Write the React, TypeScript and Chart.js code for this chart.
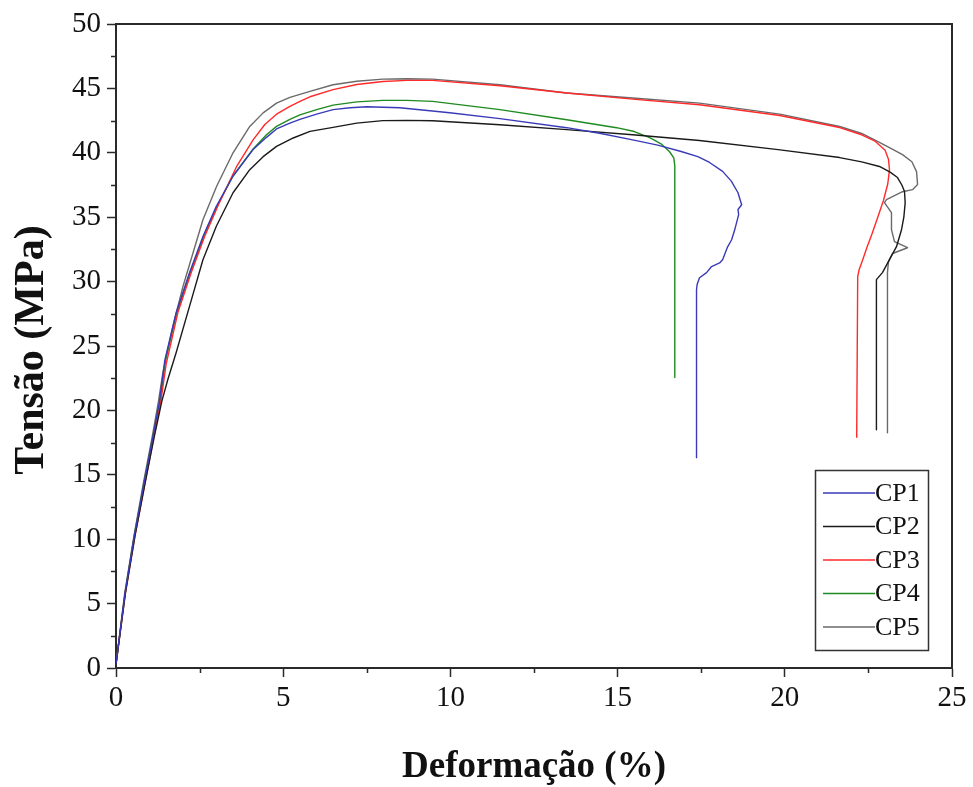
import React, { useEffect, useRef } from "react";
import { Chart, registerables } from "chart.js";

Chart.register(...registerables);

// ---- Data (strain %, stress MPa) ----
const cp1Strain = [0, 0.27, 0.55, 0.85, 1.1, 1.3, 1.46, 1.8, 2.2, 2.6, 3.0, 3.5, 4.1, 4.5, 4.8, 5.2, 5.5, 6.0, 6.49, 7.0, 7.5, 8.49, 9.98, 11.48, 13.48, 14.5, 15.45, 16.2, 16.9, 17.4, 17.75, 18.14, 18.4, 18.6, 18.71, 18.6, 18.62, 18.5, 18.41, 18.29, 18.14, 18.05, 17.81, 17.66, 17.45, 17.38, 17.36, 17.36];
const cp1Stress = [0.3, 5.8, 10.3, 14.5, 17.9, 20.7, 23.9, 27.6, 30.7, 33.5, 35.85, 38.2, 40.25, 41.2, 41.85, 42.3, 42.6, 43.0, 43.35, 43.5, 43.58, 43.5, 43.11, 42.65, 41.95, 41.5, 41.0, 40.6, 40.1, 39.7, 39.25, 38.56, 37.8, 36.9, 35.97, 35.6, 35.2, 34.0, 33.25, 32.7, 31.7, 31.45, 31.17, 30.7, 30.3, 29.8, 29.37, 16.33];

const cp2Strain = [0, 0.28, 0.57, 0.88, 1.14, 1.37, 1.55, 1.8, 2.2, 2.6, 3.0, 3.5, 4.0, 4.4, 4.8, 5.3, 5.8, 6.49, 7.2, 7.98, 8.7, 9.47, 11.48, 13.48, 15.45, 17.45, 19.8, 21.64, 22.3, 22.83, 23.15, 23.37, 23.5, 23.58, 23.6, 23.56, 23.49, 23.34, 23.13, 22.92, 22.74, 22.74];
const cp2Stress = [0.3, 5.8, 10.3, 14.5, 17.9, 20.7, 22.4, 24.5, 28.1, 31.7, 34.3, 36.9, 38.69, 39.7, 40.5, 41.15, 41.66, 41.97, 42.3, 42.5, 42.52, 42.49, 42.18, 41.8, 41.4, 40.96, 40.25, 39.63, 39.3, 38.94, 38.5, 38.08, 37.5, 36.99, 36.13, 35.0, 34.03, 32.71, 31.7, 30.7, 30.15, 18.5];

const cp3Strain = [0, 0.28, 0.57, 0.88, 1.13, 1.34, 1.5, 1.85, 2.25, 2.65, 3.05, 3.6, 4.1, 4.45, 4.8, 5.2, 5.5, 5.8, 6.49, 7.2, 7.98, 8.7, 9.47, 11.48, 13.48, 15.45, 17.45, 19.85, 21.64, 22.3, 22.7, 23.0, 23.1, 23.13, 23.08, 22.95, 22.78, 22.62, 22.45, 22.33, 22.22, 22.18, 22.15];
const cp3Stress = [0.3, 5.8, 10.3, 14.5, 17.9, 20.7, 23.6, 27.6, 30.7, 33.5, 35.9, 38.9, 41.0, 42.2, 43.0, 43.6, 44.0, 44.35, 44.9, 45.3, 45.54, 45.62, 45.62, 45.21, 44.64, 44.17, 43.73, 42.9, 41.96, 41.4, 40.9, 40.2, 39.5, 38.7, 37.6, 36.3, 35.0, 33.8, 32.6, 31.7, 30.9, 30.38, 17.88];

const cp4Strain = [0, 0.27, 0.55, 0.85, 1.1, 1.32, 1.48, 1.82, 2.22, 2.62, 3.02, 3.5, 4.1, 4.5, 4.8, 5.2, 5.5, 6.0, 6.49, 7.2, 7.98, 8.7, 9.47, 11.48, 13.48, 14.97, 15.5, 15.96, 16.3, 16.55, 16.68, 16.71, 16.71];
const cp4Stress = [0.3, 5.8, 10.3, 14.5, 17.9, 20.7, 23.9, 27.6, 30.7, 33.5, 35.85, 38.2, 40.3, 41.4, 42.05, 42.6, 42.95, 43.35, 43.7, 43.95, 44.07, 44.07, 43.99, 43.35, 42.57, 41.95, 41.65, 41.18, 40.7, 40.1, 39.6, 39.0, 22.55];

const cp5Strain = [0, 0.26, 0.54, 0.83, 1.08, 1.27, 1.4, 1.7, 2.0, 2.3, 2.6, 3.01, 3.5, 4.0, 4.4, 4.8, 5.2, 5.8, 6.49, 7.2, 7.98, 8.7, 9.47, 11.48, 13.48, 15.45, 17.45, 19.85, 21.64, 22.3, 22.83, 23.2, 23.52, 23.8, 23.94, 23.97, 23.82, 23.52, 23.04, 22.98, 23.19, 23.19, 23.28, 23.67, 23.22, 23.1, 23.07, 23.07];
const cp5Stress = [0.3, 5.8, 10.3, 14.5, 17.9, 20.7, 22.9, 26.5, 29.6, 32.2, 34.8, 37.4, 40.0, 42.05, 43.1, 43.86, 44.3, 44.77, 45.28, 45.55, 45.72, 45.75, 45.72, 45.28, 44.64, 44.25, 43.86, 43.0, 42.04, 41.5, 40.8, 40.3, 39.86, 39.3, 38.54, 37.53, 37.14, 36.98, 36.36, 36.13, 35.35, 34.03, 33.1, 32.63, 32.18, 31.55, 30.7, 18.27];

const seriesNames = ["CP1", "CP2", "CP3", "CP4", "CP5"];
const seriesColors = ["#3a3ab8", "#1a1a1a", "#ff2a2a", "#1f8a1f", "#6a6a6a"];
const xTitle = "Deformação (%)";
const yTitle = "Tensão (MPa)";
const xMinorTicks = [2.5, 7.5, 12.5, 17.5, 22.5];
const yMinorTicks = [2.5, 7.5, 12.5, 17.5, 22.5, 27.5, 32.5, 37.5, 42.5, 47.5];

const zip = (xs: number[], ys: number[]) => xs.map((x, i) => ({ x, y: ys[i] }));

const AXIS_COLOR = "#2a2a2a";
const FONT = "'Liberation Serif', 'DejaVu Serif', serif";

const decorPlugin = {
  id: "decor",
  afterDraw(chart: any) {
    const { ctx, chartArea } = chart;
    const xs = chart.scales.x;
    const ys = chart.scales.y;
    ctx.save();
    // frame top & right
    ctx.strokeStyle = AXIS_COLOR;
    ctx.lineWidth = 2;
    ctx.beginPath();
    ctx.moveTo(chartArea.left, chartArea.top);
    ctx.lineTo(chartArea.right, chartArea.top);
    ctx.lineTo(chartArea.right, chartArea.bottom);
    ctx.stroke();
    // minor ticks
    ctx.lineWidth = 1.5;
    ctx.beginPath();
    xMinorTicks.forEach((v) => {
      const px = Math.round(xs.getPixelForValue(v)) + 0.5;
      ctx.moveTo(px, chartArea.bottom);
      ctx.lineTo(px, chartArea.bottom + 5);
    });
    yMinorTicks.forEach((v) => {
      const py = Math.round(ys.getPixelForValue(v)) + 0.5;
      ctx.moveTo(chartArea.left, py);
      ctx.lineTo(chartArea.left - 5, py);
    });
    ctx.stroke();

    // axis titles
    ctx.fillStyle = "#111";
    ctx.font = `bold 37px ${FONT}`;
    ctx.textAlign = "center";
    ctx.textBaseline = "alphabetic";
    ctx.fillText(xTitle, (chartArea.left + chartArea.right) / 2, 777);
    ctx.save();
    ctx.translate(43, 350);
    ctx.rotate(-Math.PI / 2);
    ctx.font = `bold 42px ${FONT}`;
    ctx.fillText(yTitle, 0, 0);
    ctx.restore();

    // legend box
    const bx = 815, by = 470, bw = 113, bh = 180;
    ctx.strokeStyle = "#333";
    ctx.lineWidth = 1.5;
    ctx.strokeRect(bx + 0.5, by + 0.5, bw, bh);
    ctx.font = `26px ${FONT}`;
    ctx.textAlign = "left";
    ctx.textBaseline = "middle";
    seriesNames.forEach((name, i) => {
      const yy = by + 23 + i * 33.5;
      ctx.strokeStyle = seriesColors[i];
      ctx.lineWidth = 1.5;
      ctx.beginPath();
      ctx.moveTo(bx + 8, yy);
      ctx.lineTo(bx + 60, yy);
      ctx.stroke();
      ctx.fillStyle = "#111";
      ctx.fillText(name, bx + 60, yy + 1);
    });
    ctx.restore();
  },
};

export default function App() {
  const ref = useRef<HTMLCanvasElement | null>(null);
  useEffect(() => {
    if (!ref.current) return;
    const datasets = [
      zip(cp1Strain, cp1Stress),
      zip(cp2Strain, cp2Stress),
      zip(cp3Strain, cp3Stress),
      zip(cp4Strain, cp4Stress),
      zip(cp5Strain, cp5Stress),
    ].map((data, i) => ({
      label: seriesNames[i],
      data,
      borderColor: seriesColors[i],
      backgroundColor: seriesColors[i],
      borderWidth: 1.4,
      pointRadius: 0,
      showLine: true,
      tension: 0,
      fill: false,
      borderJoinStyle: "round" as const,
    }));
    const chart = new Chart(ref.current, {
      type: "scatter",
      data: { datasets },
      options: {
        animation: false,
        responsive: false,
        maintainAspectRatio: false,
        layout: { padding: { left: 0, top: 24, right: 21, bottom: 0 } },
        plugins: { legend: { display: false }, tooltip: { enabled: false } },
        scales: {
          x: {
            type: "linear",
            min: 0,
            max: 25,
            ticks: { stepSize: 5, color: "#111", font: { family: FONT, size: 29 }, padding: 4, maxRotation: 0 },
            grid: { display: true, drawOnChartArea: false, drawTicks: true, tickLength: 9, tickWidth: 1.5, tickColor: AXIS_COLOR },
            border: { display: true, color: AXIS_COLOR, width: 2 },
            afterFit: (s: any) => { s.height = 119; },
          },
          y: {
            type: "linear",
            min: 0,
            max: 50,
            ticks: { stepSize: 5, color: "#111", font: { family: FONT, size: 29 }, padding: 6 },
            grid: { display: true, drawOnChartArea: false, drawTicks: true, tickLength: 9, tickWidth: 1.5, tickColor: AXIS_COLOR },
            border: { display: true, color: AXIS_COLOR, width: 2 },
            afterFit: (s: any) => { s.width = 116; },
          },
        },
      },
      plugins: [decorPlugin],
    });
    return () => chart.destroy();
  }, []);
  return (
    <div style={{ position: "absolute", left: 0, top: 0, width: 973, height: 787, background: "#fff" }}>
      <canvas ref={ref} width={973} height={787} style={{ display: "block" }} />
    </div>
  );
}
